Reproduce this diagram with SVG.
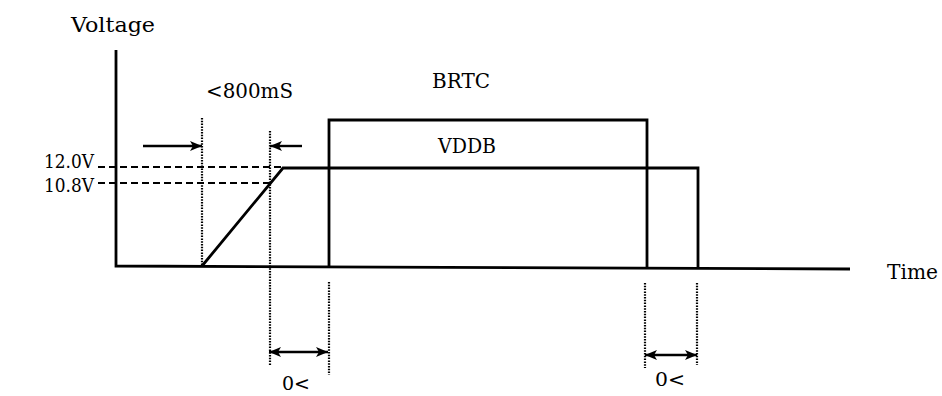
<svg xmlns="http://www.w3.org/2000/svg" width="942" height="396" viewBox="0 0 942 396">
<defs>
<style>
.sig{fill:none;stroke:#000;stroke-width:2.8;stroke-linejoin:miter}
.dot{fill:none;stroke:#000;stroke-width:2.2;stroke-dasharray:1.5 1.3}
.dash{fill:none;stroke:#000;stroke-width:2.2;stroke-dasharray:7 4}
.arr{fill:none;stroke:#000;stroke-width:2.4}
text{font-family:"DejaVu Serif","Liberation Serif",serif;fill:#000}
</style>
<marker id="ah" viewBox="0 0 12 10" refX="12" refY="5" markerWidth="12" markerHeight="10" markerUnits="userSpaceOnUse" orient="auto-start-reverse">
<path d="M0,0 L12,5 L0,10 L3,5 Z" fill="#000"/>
</marker>
</defs>
<rect width="942" height="396" fill="#fff"/>
<g id="axes">
<path class="sig" d="M116,50 L116,266 L850,269"/>
<text x="71" y="32" font-size="20" textLength="84" lengthAdjust="spacingAndGlyphs">Voltage</text>
<text x="887" y="279" font-size="20" textLength="51" lengthAdjust="spacingAndGlyphs">Time</text>
</g>
<g id="levels">
<path class="dash" d="M98,167 H283"/>
<path class="dash" d="M98,183 H270"/>
<text x="44" y="168" font-size="18" textLength="50" lengthAdjust="spacingAndGlyphs">12.0V</text>
<text x="44" y="192" font-size="18" textLength="50" lengthAdjust="spacingAndGlyphs">10.8V</text>
</g>
<g id="VDDB">
<path class="sig" d="M202,266 L283,168 L698,168 L698,268"/>
<text x="438" y="153" font-size="20" textLength="58" lengthAdjust="spacingAndGlyphs">VDDB</text>
</g>
<g id="BRTC">
<path class="sig" d="M329,267 L329,120 L647,120 L647,268"/>
<text x="432" y="88" font-size="20" textLength="58" lengthAdjust="spacingAndGlyphs">BRTC</text>
</g>
<g id="connectors">
<path class="dot" d="M202,118 V266"/>
<path class="dot" d="M270,131 V365"/>
<path class="dot" d="M329,282 V375"/>
<path class="dot" d="M645,283 V368"/>
<path class="dot" d="M697,283 V365"/>
<path class="arr" d="M143,146 H202" marker-end="url(#ah)"/>
<path class="arr" d="M302,146 H270" marker-end="url(#ah)"/>
<path class="arr" d="M269,352 H328" marker-start="url(#ah)" marker-end="url(#ah)"/>
<path class="arr" d="M645,355 H697" marker-start="url(#ah)" marker-end="url(#ah)"/>
</g>
<g id="labels">
<text x="206" y="98" font-size="20" textLength="87" lengthAdjust="spacingAndGlyphs">&lt;800mS</text>
<text x="282" y="390" font-size="19" textLength="28" lengthAdjust="spacingAndGlyphs">0&lt;</text>
<text x="655" y="386" font-size="19" textLength="30" lengthAdjust="spacingAndGlyphs">0&lt;</text>
</g>
</svg>
